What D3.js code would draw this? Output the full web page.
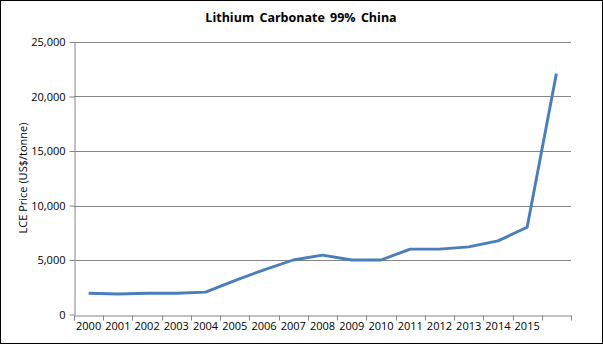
<!DOCTYPE html>
<html><head><meta charset="utf-8">
<script src="https://cdn.jsdelivr.net/npm/d3@7"></script>
<style>
html,body{margin:0;padding:0;background:#fff;}
svg{display:block;font-family:"Open Sans","DejaVu Sans",sans-serif;}
</style></head>
<body>
<svg id="c" width="603" height="344"></svg>
<script>
const categories = ["2000","2001","2002","2003","2004","2005","2006","2007","2008","2009","2010","2011","2012","2013","2014","2015","2016"];
const tickLabels = ["2000","2001","2002","2003","2004","2005","2006","2007","2008","2009","2010","2011","2012","2013","2014","2015",""];
const prices = [1950, 1880, 1950, 1950, 2050, 3100, 4100, 5000, 5450, 5000, 5000, 6000, 6000, 6200, 6750, 8000, 22100];
const yTicks = [0, 5000, 10000, 15000, 20000, 25000];
const title = "Lithium Carbonate 99% China";
const yTitle = "LCE Price (US$/tonne)";

(function(){
const svg = d3.select("#c");
svg.append("rect").attr("x",0.5).attr("y",0.5).attr("width",602).attr("height",343)
  .attr("fill","#fff").attr("stroke","#000").attr("stroke-width",1);

const pL = 74, pR = 571, pT = 42, pB = 314.5;
const x = d3.scaleBand().domain(categories).range([pL, pR]).padding(0);
const y = d3.scaleLinear().domain([0, 25000]).range([pB, pT]);
const fmt = d3.format(",");

svg.append("g").selectAll("line").data(yTicks.filter(d=>d>0)).join("line")
  .attr("x1", pL).attr("x2", pR)
  .attr("y1", d=>Math.round(y(d))+0.5).attr("y2", d=>Math.round(y(d))+0.5)
  .attr("stroke","#868686").attr("stroke-width",1);

const ya = svg.append("g").attr("transform",`translate(${pL+0.5},0)`)
  .call(d3.axisLeft(y).tickValues(yTicks).tickFormat(fmt).tickSize(5).tickSizeOuter(0));
ya.select(".domain").attr("stroke","#868686");
ya.selectAll(".tick line").attr("stroke","#868686");
ya.selectAll(".tick text").attr("font-size","11px").attr("fill","#000").attr("x",-9)
  .attr("font-family","'Open Sans','DejaVu Sans',sans-serif");

const xa = svg.append("g").attr("transform",`translate(0,${Math.round(pB)+0.5})`)
  .call(d3.axisBottom(x).tickFormat((d,i)=>tickLabels[i]).tickSize(0).tickSizeOuter(0));
xa.select(".domain").attr("stroke","#868686");
xa.selectAll(".tick text").attr("font-size","11px").attr("fill","#000").attr("dy","0.71em").attr("y",7)
  .attr("font-family","'Open Sans','DejaVu Sans',sans-serif");
const bounds = categories.map(c=>x(c)).concat([x(categories[categories.length-1])+x.bandwidth()]);
xa.append("g").selectAll("line").data(bounds).join("line")
  .attr("x1",d=>Math.round(d)+0.5).attr("x2",d=>Math.round(d)+0.5)
  .attr("y1",0).attr("y2",5).attr("stroke","#868686");

const line = d3.line().x((d,i)=>x(categories[i])+x.bandwidth()/2).y(d=>y(d));
svg.append("path").datum(prices).attr("d",line)
  .attr("fill","none").attr("stroke","#4a7ebb").attr("stroke-width",2.9)
  .attr("stroke-linejoin","round");

svg.append("text").attr("x",301).attr("y",22).attr("text-anchor","middle")
  .attr("font-size","12.5px").attr("font-weight","bold").attr("word-spacing","2px").attr("fill","#000").text(title);

svg.append("text").attr("transform","translate(27,178) rotate(-90)")
  .attr("text-anchor","middle").attr("font-size","11px").attr("fill","#000").text(yTitle);
})();
</script>
</body></html>
